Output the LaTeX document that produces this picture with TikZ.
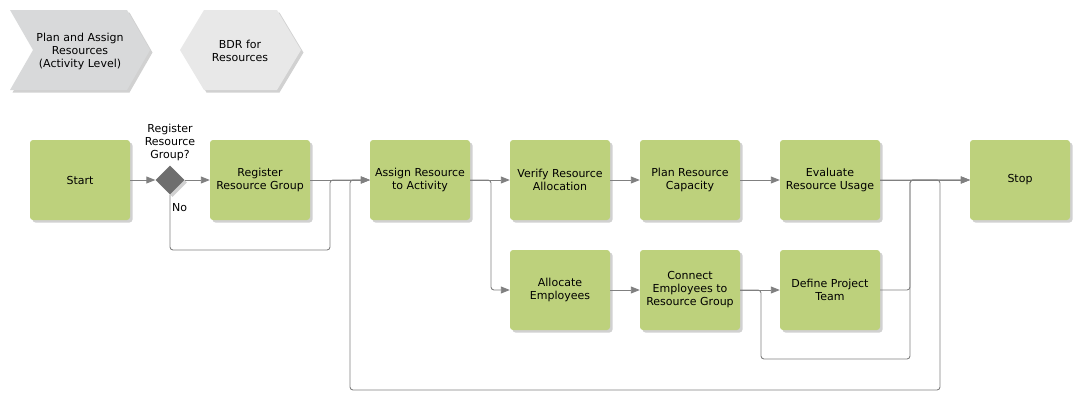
\documentclass[tikz,border=0pt]{standalone}
\usepackage{fontspec}
\setmainfont{DejaVu Sans}
\usetikzlibrary{shapes.geometric,arrows.meta,shadows}
\definecolor{actgreen}{RGB}{189,209,124}
\definecolor{linegray}{RGB}{128,128,128}
\definecolor{diagray}{RGB}{110,110,110}
\definecolor{chevgray}{RGB}{216,217,218}
\definecolor{hexgray}{RGB}{232,232,232}
\tikzset{
  shad/.style={drop shadow={shadow xshift=2.5pt,shadow yshift=-2.5pt,fill=black!30,opacity=0.6}},
  txt/.style={font=\fontsize{11}{13}\selectfont},
  act/.style={shape=rectangle,rounded corners=3pt,fill=actgreen,minimum width=100pt,minimum height=80pt,
    align=center,inner sep=0pt,txt,shad},
  gate/.style={shape=diamond,fill=diagray,minimum width=29pt,minimum height=29pt,inner sep=0pt,shad},
  lbl/.style={align=center,inner sep=0pt,txt},
  conn/.style={draw=linegray,line width=0.9pt,rounded corners=3pt,-{Triangle[length=9pt,width=7pt]}}
}
\begin{document}
\begin{tikzpicture}[x=1pt,y=-1pt]
\useasboundingbox (0,0) rectangle (1080,400);
% top shapes
\path[fill=chevgray,shad] (10,10) -- (127,10) -- (150,50) -- (127,90) -- (10,90) -- (33,50) -- cycle;
\node[lbl] (plan) at (80,51) {Plan and Assign\\Resources\\(Activity Level)};
\path[fill=hexgray,shad] (180,50) -- (204,10) -- (277,10) -- (301,50) -- (277,90) -- (204,90) -- cycle;
\node[lbl] (bdr) at (240,51) {BDR for\\Resources};
% nodes
\node[act] (start) at (80,180) {Start};
\node[gate] (gw) at (170,180) {};
\node[lbl] (gwl) at (170,142) {Register\\Resource\\Group?};
\node[lbl,anchor=west] (no) at (172,208) {No};
\node[act] (reg) at (260,180) {Register\\Resource Group};
\node[act] (assign) at (420,180) {Assign Resource\\to Activity};
\node[act] (verify) at (560,180) {Verify Resource\\Allocation};
\node[act] (plancap) at (690,180) {Plan Resource\\Capacity};
\node[act] (eval) at (830,180) {Evaluate\\Resource Usage};
\node[act] (stop) at (1020,180) {Stop};
\node[act] (alloc) at (560,290) {Allocate\\Employees};
\node[act] (connect) at (690,290) {Connect\\Employees to\\Resource Group};
\node[act] (define) at (830,290) {Define Project\\Team};
% connectors
\draw[conn] (start.east) -- (gw.west);
\draw[conn] (gw.east) -- (reg.west);
\draw[conn] (gw.south) -- (170,250) -- (330,250) -- (330,180) -- (assign.west);
\draw[conn] (reg.east) -- (assign.west);
\draw[conn] (eval.east) -- (940,180) -- (940,390) -- (350,390) -- (350,180) -- (assign.west);
\draw[conn] (assign.east) -- (verify.west);
\draw[conn] (assign.east) -- (491,180) -- (491,290) -- (alloc.west);
\draw[conn] (verify.east) -- (plancap.west);
\draw[conn] (plancap.east) -- (eval.west);
\draw[conn] (eval.east) -- (stop.west);
\draw[conn] (alloc.east) -- (connect.west);
\draw[conn] (connect.east) -- (define.west);
\draw[conn] (connect.east) -- (761,290) -- (761,359) -- (910,359) -- (910,180) -- (stop.west);
\draw[conn] (define.east) -- (910,290) -- (910,180) -- (stop.west);
\end{tikzpicture}
\end{document}
